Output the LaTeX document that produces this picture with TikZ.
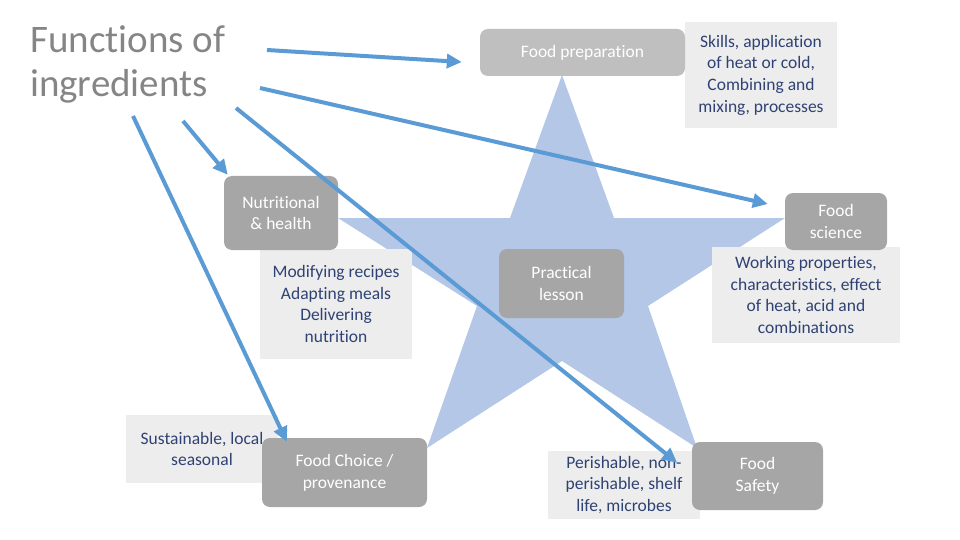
\documentclass[tikz,border=0pt]{standalone}
\usepackage{fontspec}
\setmainfont{Carlito}[Ligatures=NoCommon]
\usetikzlibrary{arrows.meta}
\definecolor{starblue}{HTML}{B4C7E7}
\definecolor{arrowblue}{HTML}{5B9BD5}
\definecolor{boxgrey}{HTML}{A6A6A6}
\definecolor{topgrey}{HTML}{BFBFBF}
\definecolor{notegrey}{HTML}{EDEDED}
\definecolor{notetext}{HTML}{2F4274}
\definecolor{titlegrey}{HTML}{858585}
\tikzset{
  area/.style={fill=boxgrey, rounded corners=8pt, text=white, align=center, inner sep=0pt, font=\fontsize{17.5}{21.7}\selectfont},
  note/.style={fill=notegrey, text=notetext, align=center, inner sep=0pt, font=\fontsize{17.5}{21.7}\selectfont},
  feed/.style={-{Triangle[length=15pt, width=14pt]}, line width=4pt, draw=arrowblue}
}

\begin{document}
\begin{tikzpicture}[x=1pt, y=-1pt]
  \useasboundingbox (0,0) rectangle (960,540);

  % the star behind everything
  \fill[starblue] (562,75) -- (614,218) -- (785,218) -- (648,306) -- (697,448) -- (562,361)
    -- (427,448) -- (477,306) -- (338,218) -- (510,218) -- cycle;

  \node[font=\fontsize{39}{44}\selectfont, text=titlegrey, align=left, anchor=north west, inner sep=0pt] (title) at (30,25) {Functions of\\ingredients};

  % notes
  \node[note, minimum width=152pt, minimum height=106pt] (skills) at (761,75) {Skills, application\\of heat or cold,\\Combining and\\mixing, processes};
  \node[note, minimum width=152pt, minimum height=110pt] (modify) at (336,304) {Modifying recipes\\Adapting meals\\Delivering\\nutrition};
  \node[note, minimum width=188pt, minimum height=96pt] (working) at (806,295) {Working properties,\\characteristics, effect\\of heat, acid and\\combinations};
  \node[note, minimum width=152pt, minimum height=68pt] (sustain) at (202,449) {Sustainable, local\\seasonal};
  \node[note, minimum width=152pt, minimum height=68pt] (perish) at (624,485) {Perishable, non-\\perishable, shelf\\life, microbes};

  % areas
  \node[area, fill=topgrey, minimum width=205pt, minimum height=47pt] (prep) at (582.5,52.5) {Food preparation};
  \node[area, minimum width=114pt, minimum height=74pt] (nutri) at (281,213) {Nutritional\\\& health};
  \node[area, minimum width=125pt, minimum height=69pt] (prac) at (561.5,283.5) {Practical\\lesson};
  \node[area, minimum width=102pt, minimum height=57pt] (sci) at (836,221.5) {Food\\science};
  \node[area, minimum width=165pt, minimum height=69pt] (choice) at (344.5,472.5) {Food Choice /\\provenance};
  \node[area, minimum width=131pt, minimum height=68pt] (safety) at (757.5,476) {Food\\Safety};

  % arrows out of the title
  \coordinate (t1) at (267,50);
  \coordinate (t2) at (260,88);
  \coordinate (t3) at (183,121);
  \coordinate (t4) at (236,108);
  \coordinate (t5) at (133,116);

  \draw[feed] (t1) -- ([shift={(-18,9.5)}]prep.west);
  \draw[feed] (t2) -- ([shift={(-17,-17.5)}]sci.west);
  \draw[feed] (t3) -- ([shift={(4,-1)}]nutri.north west);
  \draw[feed] (t4) -- ([shift={(-23,12)}]perish.north east);
  \draw[feed] (t5) -- ([shift={(25,4)}]choice.north west);
\end{tikzpicture}
\end{document}
